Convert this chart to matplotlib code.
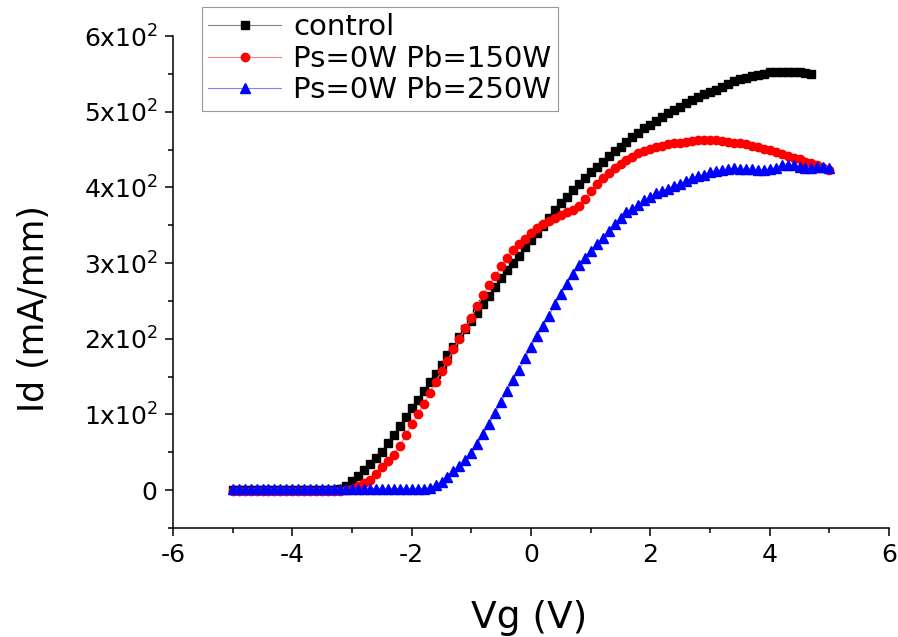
import numpy as np
import matplotlib.pyplot as plt
from matplotlib.ticker import MultipleLocator, FixedLocator

plt.rcParams['font.family'] = ['DejaVu Sans']

# gate voltage sweep, 0.1 V steps
vg = np.round(np.arange(-5.0, 5.05, 0.1), 1)

id_control = [0] * 18 + [
    2, 6, 12, 19, 26, 34, 43, 51, 62, 73, 85, 97, 108, 119, 131, 143, 154, 166, 178, 189,
    202, 213, 224, 234, 246, 256, 269, 280, 291, 300, 310, 321, 331, 340, 349, 360, 370, 379,
    387, 396, 404, 412, 420, 427, 434, 441, 448, 454, 460, 466, 472, 478, 483, 488, 493, 498,
    502, 506, 511, 515, 519, 523, 526, 529, 533, 536, 540, 543, 545, 547, 549, 550, 552, 553,
    553, 553, 553, 552, 551, 550]

id_150 = [-1] * 19 + [
    0, 2, 6, 9, 14, 22, 31, 38, 47, 58, 73, 87, 100, 114, 128, 143, 157, 170, 186, 200,
    214, 228, 243, 258, 271, 283, 296, 307, 317, 325, 332, 340, 346, 351, 356, 360, 363, 367,
    370, 376, 384, 395, 404, 413, 419, 425, 431, 436, 440, 445, 448, 451, 454, 455, 457, 458,
    459, 460, 461, 462, 462, 463, 462, 461, 460, 459, 458, 457, 455, 453, 451, 449, 447, 444,
    442, 439, 437, 434, 432, 429, 426, 423]

id_250 = [2] * 33 + [
    3, 7, 11, 18, 25, 32, 40, 49, 61, 74, 88, 102, 117, 131, 145, 159, 174, 189, 204, 217,
    230, 246, 259, 273, 286, 297, 307, 316, 325, 333, 342, 351, 360, 367, 372, 377, 383, 387,
    392, 395, 398, 402, 405, 409, 412, 415, 417, 420, 422, 423, 424, 425, 424, 424, 424, 423,
    423, 424, 426, 429, 430, 429, 427, 425, 426, 427, 427, 426]

labels = ['control', 'Ps=0W Pb=150W', 'Ps=0W Pb=250W']
yticks = [0, 100, 200, 300, 400, 500, 600]

fig = plt.figure(figsize=(8.98, 6.37), dpi=100)
ax = fig.add_axes([173 / 898, 1 - 528 / 637, 716 / 898, 492 / 637])

ax.plot(vg[:len(id_control)], id_control, color='#808080', lw=0.8, marker='s', ms=5.5,
        mec='black', mfc='black', label=labels[0])
ax.plot(vg, id_150, color='#ff8080', lw=0.8, marker='o', ms=6,
        mec='red', mfc='red', label=labels[1])
ax.plot(vg, id_250, color='#8080ff', lw=0.8, marker='^', ms=7,
        mec='blue', mfc='blue', label=labels[2])

ax.set_xlim(-6, 6)
ax.set_ylim(-50, 600)
ax.xaxis.set_major_locator(MultipleLocator(2))
ax.xaxis.set_minor_locator(MultipleLocator(1))
ax.yaxis.set_major_locator(FixedLocator(yticks))
ax.yaxis.set_minor_locator(MultipleLocator(50))
ax.set_yticklabels(['0'] + ['%dx10$^{\\mathregular{2}}$' % (v // 100) for v in yticks[1:]])
ax.set_xticklabels(['%d' % v for v in ax.get_xticks()])

for s in ['top', 'right']:
    ax.spines[s].set_visible(False)
for s in ['left', 'bottom']:
    ax.spines[s].set_linewidth(1.1)
ax.tick_params(which='major', direction='out', length=6, width=1.1, labelsize=18, pad=5)
ax.tick_params(which='minor', direction='out', length=3.5, width=1.1)

ax.set_xlabel('Vg (V)', fontsize=27)
ax.xaxis.set_label_coords(0.497, -0.146)
ax.set_ylabel('Id (mA/mm)', fontsize=25)
ax.yaxis.set_label_coords(-0.171, 0.445)

leg = ax.legend(loc='upper left', bbox_to_anchor=(202 / 898, 1 - 7 / 637),
                bbox_transform=fig.transFigure, fontsize=21, frameon=True,
                fancybox=False, handlelength=2.5, handletextpad=0.4,
                labelspacing=0.12, borderpad=0.22, borderaxespad=0)
leg.get_frame().set_edgecolor('#808080')
leg.get_frame().set_linewidth(0.8)

fig.savefig('out.png', dpi=100)
